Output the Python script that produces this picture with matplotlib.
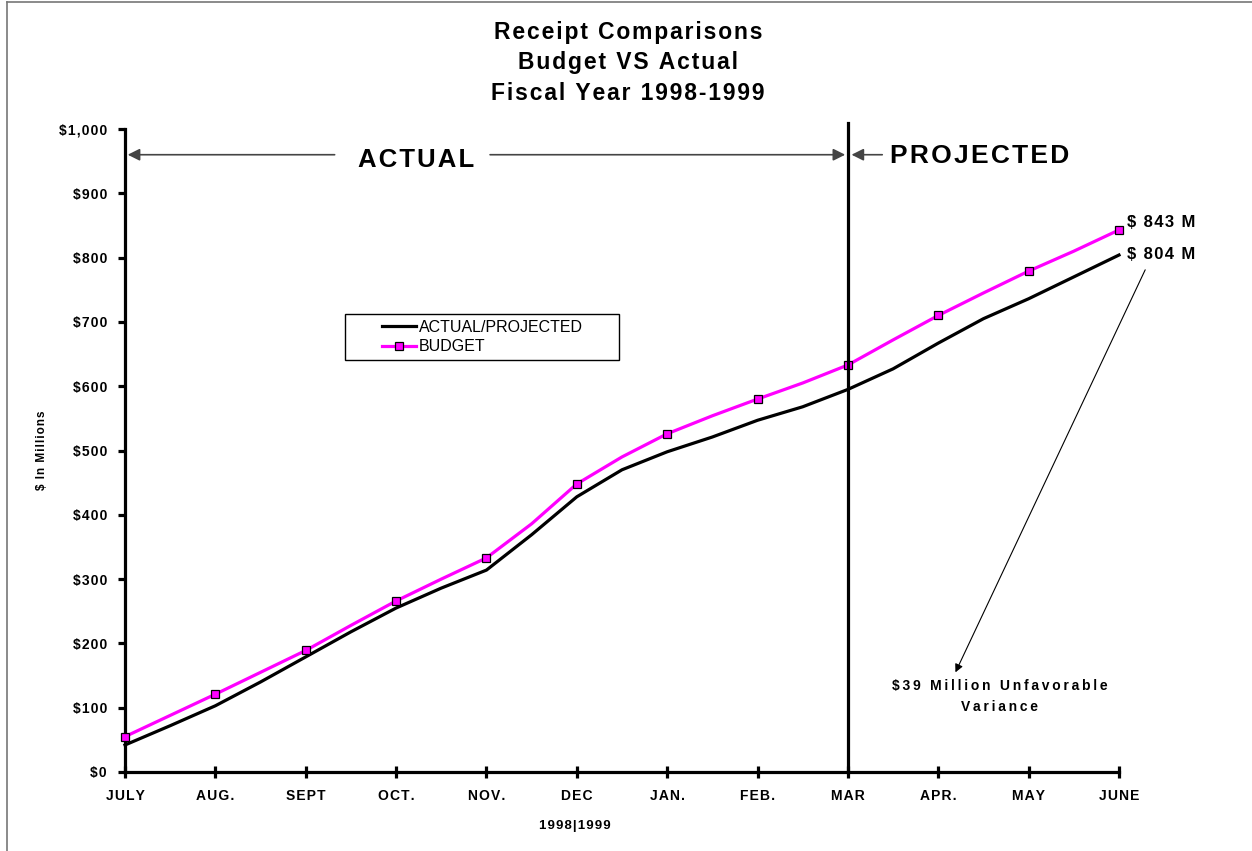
import numpy as np
import matplotlib.pyplot as plt
from matplotlib.patches import Rectangle
from matplotlib.lines import Line2D

plt.rcParams['font.family'] = ['Liberation Sans', 'DejaVu Sans']

# month labels along the bottom
months = ['JULY', 'AUG.', 'SEPT', 'OCT.', 'NOV.', 'DEC', 'JAN.', 'FEB.', 'MAR', 'APR.', 'MAY', 'JUNE']

actual = [42, 72, 103, 140, 179, 218, 255, 286, 314, 369, 428, 470,
          498, 521, 547, 568, 595, 627, 667, 705, 736, 770, 804]
budget = [55, 88, 121, 155, 189, 228, 266, 300, 333, 386, 448, 490,
          526, 554, 580, 605, 633, 672, 710, 745, 779, 810, 843]
budget_marks = [55, 121, 189, 266, 333, 448, 526, 580, 633, 710, 779, 843]
ytick_labels = ['$0', '$100', '$200', '$300', '$400', '$500', '$600', '$700', '$800', '$900', '$1,000']


def sp(s, gap='\u2009'):
    # the original uses wide letter spacing, fake it with thin/hair spaces
    return gap.join(s)


HAIR = '\u200a'

x_half = np.arange(len(actual)) / 2.0
x_month = np.arange(len(months))

fig = plt.figure(figsize=(12.52, 8.51), dpi=100)
ax = fig.add_axes([125/1252, 79/851, 994/1252, 643/851])

ax.plot(x_half, actual, color='black', lw=2.3, zorder=3, clip_on=False)
ax.plot(x_half, budget, color='#ff00ff', lw=2.3, zorder=3, clip_on=False)
ax.plot(x_month, budget_marks, ls='none', marker='s', ms=6, mfc='#ff00ff', mec='black', mew=0.9,
        zorder=4, clip_on=False)

ax.set_xlim(0, 11)
ax.set_ylim(0, 1000)
for s in ['top', 'right']:
    ax.spines[s].set_visible(False)
for s in ['left', 'bottom']:
    ax.spines[s].set_linewidth(2.3)

ax.set_xticks(x_month)
ax.set_xticklabels([sp(m, HAIR) for m in months], fontsize=10, fontweight='bold')
ax.tick_params(axis='x', direction='inout', length=9, width=2.3, pad=8)
ax.set_yticks(np.arange(0, 1001, 100))
ax.set_yticklabels([sp(t, HAIR) for t in ytick_labels], fontsize=10, fontweight='bold')
ax.tick_params(axis='y', direction='out', length=5, width=2.3, pad=8)

# divider between actual and projected
ax.plot([8, 8], [0, 1010], color='black', lw=2.3, clip_on=False, zorder=5)

# actual / projected arrows
arr = dict(arrowstyle='-|>', color='#444444', lw=1.2, mutation_scale=18, shrinkA=0, shrinkB=0)
ax.annotate('', xy=(0.03, 960), xytext=(2.32, 960), arrowprops=arr)
ax.annotate('', xy=(7.97, 960), xytext=(4.04, 960), arrowprops=arr)
ax.annotate('', xy=(8.04, 960), xytext=(8.38, 960), arrowprops=arr)
ax.annotate('', xy=(11.01, 960), xytext=(10.52, 960), arrowprops=arr)
ax.text(3.22, 952, sp('ACTUAL', HAIR), fontsize=18.5, fontweight='bold', ha='center', va='center')
ax.text(9.46, 958, sp('PROJECTED', HAIR), fontsize=19, fontweight='bold', ha='center', va='center')

ax.text(11.09, 855, sp('$ 843 M', HAIR), fontsize=12, fontweight='bold', ha='left', va='center')
ax.text(11.09, 805, sp('$ 804 M', HAIR), fontsize=12, fontweight='bold', ha='left', va='center')

ax.annotate('', xy=(9.19, 155), xytext=(11.29, 781),
            arrowprops=dict(arrowstyle='-|>', color='black', lw=0.8, mutation_scale=12,
                            shrinkA=0, shrinkB=0), annotation_clip=False)
ax.text(9.68, 117, sp('$39 Million Unfavorable') + '\n' + sp('Variance'), fontsize=10, fontweight='bold',
        ha='center', va='center', linespacing=1.6)

# titles and axis labels
title = [sp('Receipt Comparisons', HAIR), sp('Budget VS Actual', HAIR), sp('Fiscal Year 1998-1999', HAIR)]
fig.text(628/1252, 1 - 63/851, '\n'.join(title),
         fontsize=16.5, fontweight='bold', ha='center', va='center', linespacing=1.42)
fig.text(42/1252, 1 - 450/851, sp('$ In Millions', HAIR), rotation=90, fontsize=8.5, fontweight='bold',
         ha='center', va='center')
fig.text(575/1252, 1 - 826/851, sp('1998|1999', HAIR), fontsize=9.5, fontweight='bold', ha='center', va='center')

# legend box
fig.patches.append(Rectangle((345/1252, 1 - 360/851), 274/1252, 46/851, transform=fig.transFigure,
                             facecolor='white', edgecolor='black', lw=1, zorder=6))
handles = [Line2D([], [], color='black', lw=2.3),
           Line2D([], [], color='#ff00ff', lw=2.3, marker='s', ms=6, mfc='#ff00ff', mec='black', mew=0.9)]
leg = fig.legend(handles, ['ACTUAL/PROJECTED', 'BUDGET'], loc='center left',
                 bbox_to_anchor=(382/1252, 1 - 337/851), frameon=False, fontsize=11.5,
                 handlelength=2.1, handletextpad=0.2, labelspacing=0.3, borderpad=0, borderaxespad=0)
leg.set_zorder(7)

# outer frame
fig.add_artist(Line2D([7/1252, 7/1252], [0, 1 - 2/851], transform=fig.transFigure, color='#777777', lw=1.2))
fig.add_artist(Line2D([7/1252, 1], [1 - 2/851, 1 - 2/851], transform=fig.transFigure, color='#777777', lw=1.2))

fig.savefig('out.png', dpi=100)
